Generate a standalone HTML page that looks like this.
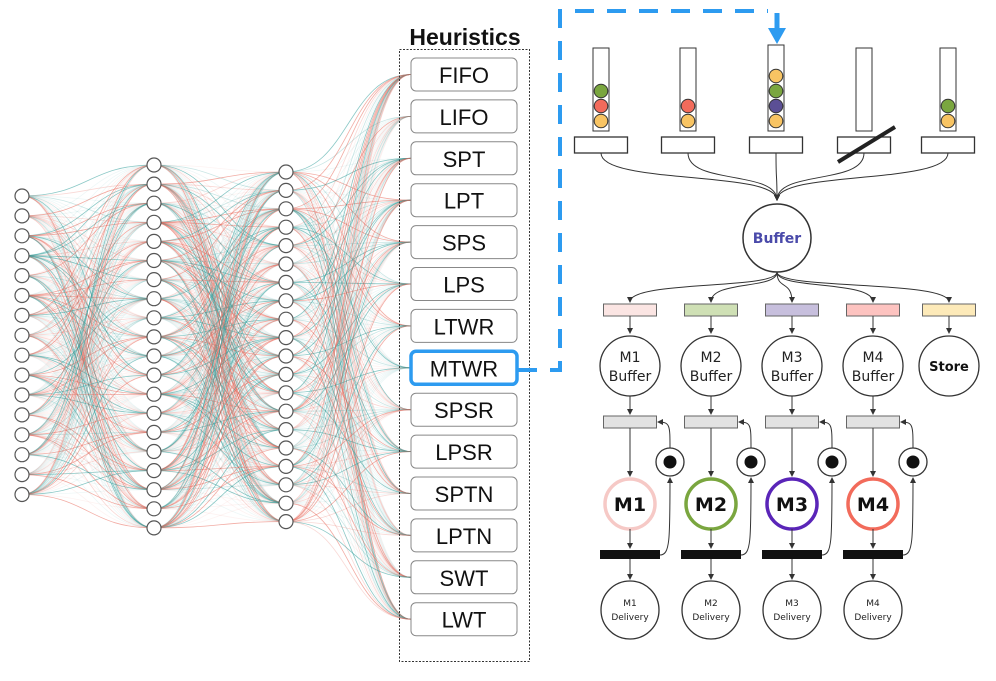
<!DOCTYPE html>
<html><head><meta charset="utf-8">
<style>
html,body{margin:0;padding:0;background:#fff;}
svg{display:block;font-family:"Liberation Sans",sans-serif;}
.t{font-family:"DejaVu Sans","Liberation Sans",sans-serif;}
</style></head>
<body>
<svg id="s" width="996" height="681" viewBox="0 0 996 681" xmlns="http://www.w3.org/2000/svg">
<defs>
<marker id="a" markerWidth="6" markerHeight="6" refX="5" refY="3" orient="auto"><path d="M0,0 L6,3 L0,6 z" fill="#333"/></marker>
</defs>
<g id="links" fill="none"></g>
<g id="nodes"></g>
<!-- Heuristics -->
<text x="465" y="45" font-size="23" font-weight="bold" text-anchor="middle" fill="#111">Heuristics</text>
<rect x="399.5" y="49.5" width="130" height="612" fill="none" stroke="#333" stroke-dasharray="2,1.5"/>
<g id="heur"></g>
<!-- dashed blue -->
<path d="M518,370 H560 V11 H768" fill="none" stroke="#2d9bf0" stroke-width="4" stroke-dasharray="19,13"/>
<path d="M777,13 V30" stroke="#2d9bf0" stroke-width="5"/>
<path d="M768,28 L786,28 L777,44 z" fill="#2d9bf0"/>
<g id="right" stroke="#333" fill="none"></g>
</svg>
<script>
var NS="http://www.w3.org/2000/svg";
function el(p,t,a,txt){var e=document.createElementNS(NS,t);for(var k in a)e.setAttribute(k,a[k]);if(txt!=null)e.textContent=txt;p.appendChild(e);return e;}
var seed=7;function rnd(){seed=(seed*16807)%2147483647;return seed/2147483647;}
var L1=[],L2=[],L3=[],H=[];
for(var i=0;i<16;i++)L1.push([22,196+i*19.9]);
for(var i=0;i<20;i++)L2.push([154,165+i*19.1]);
for(var i=0;i<20;i++)L3.push([286,172+i*18.4]);
var names=["FIFO","LIFO","SPT","LPT","SPS","LPS","LTWR","MTWR","SPSR","LPSR","SPTN","LPTN","SWT","LWT"];
for(var i=0;i<14;i++)H.push([411,74.5+i*41.9]);
var links=document.getElementById("links");
function conn(A,B){for(var i=0;i<A.length;i++)for(var j=0;j<B.length;j++){var a=A[i],b=B[j];var r=rnd();var col=rnd()<0.5?"#e8675a":"#2a9a97";var op=r<0.25?0.55:(r<0.55?0.25:0.08);var mx=(a[0]+b[0])/2;
el(links,"path",{d:"M"+a[0]+","+a[1]+" C"+mx+","+a[1]+" "+mx+","+b[1]+" "+b[0]+","+b[1],stroke:col,"stroke-opacity":op,"stroke-width":0.8});}}
conn(L1,L2);conn(L2,L3);conn(L3,H);
var nodes=document.getElementById("nodes");
[L1,L2,L3].forEach(function(L){L.forEach(function(p){el(nodes,"circle",{cx:p[0],cy:p[1],r:7,fill:"#fff",stroke:"#555","stroke-width":1.2});});});
var heur=document.getElementById("heur");
for(var i=0;i<14;i++){var y=58+i*41.9;var sel=names[i]=="MTWR";
el(heur,"rect",{x:411,y:y,width:106,height:33,rx:5,fill:"#fff",stroke:sel?"#2d9bf0":"#888","stroke-width":sel?3.5:1});
el(heur,"text",{x:464,y:y+25,"font-size":22,"text-anchor":"middle",fill:"#111"},names[i]);}
var R=document.getElementById("right");
var tx=[601,688,776,864,948];
var balls=[["#7aa63f","#f26b5b","#f8c463"],["#f26b5b","#f8c463"],["#f8c463","#7aa63f","#5b4f95","#f8c463"],[],["#7aa63f","#f8c463"]];
tx.forEach(function(x,k){el(R,"rect",{x:x-8,y:k==2?45:48,width:16,height:k==2?86:83,fill:"#fff"});
var b=balls[k];for(var m=0;m<b.length;m++){el(R,"circle",{cx:x,cy:121-(b.length-1-m)*15,r:6.8,fill:b[m]});}
el(R,"rect",{x:x-26.5,y:137,width:53,height:16,fill:"#fff","stroke-width":1.3});
el(R,"path",{d:"M"+x+",153 C"+x+",185 777,170 777,200","marker-end":"url(#a)","stroke-width":1});});
el(R,"path",{d:"M838,162 L895,127","stroke-width":4,stroke:"#222"});
el(R,"circle",{cx:777,cy:238,r:34,fill:"#fff","stroke-width":1.5});
el(R,"text",{x:777,y:243,"font-size":14,"font-weight":"bold","text-anchor":"middle",fill:"#4a4aaa",stroke:"none","class":"t"},"Buffer");
var cx=[630,711,792,873,949];var cols=["#fbe5e3","#cfe0b5","#c7bfdd","#fdc3c0","#fdeab9"];
cx.forEach(function(x,k){el(R,"path",{d:"M777,272 C777,290 "+x+",280 "+x+",302","marker-end":"url(#a)","stroke-width":1});
el(R,"rect",{x:x-26.5,y:304,width:53,height:12,fill:cols[k],stroke:"#666"});
el(R,"path",{d:"M"+x+",316 V333","marker-end":"url(#a)","stroke-width":1});
el(R,"circle",{cx:x,cy:366,r:30,fill:"#fff","stroke-width":1.3});
if(k==4){el(R,"text",{x:x,y:371,"font-size":13,"font-weight":"bold","text-anchor":"middle",fill:"#111",stroke:"none","class":"t"},"Store");return;}
el(R,"text",{x:x,y:362,"font-size":14,"text-anchor":"middle",fill:"#222",stroke:"none","class":"t"},"M"+(k+1));
el(R,"text",{x:x,y:381,"font-size":14,"text-anchor":"middle",fill:"#222",stroke:"none","class":"t"},"Buffer");
el(R,"path",{d:"M"+x+",396 V414","marker-end":"url(#a)","stroke-width":1});
el(R,"rect",{x:x-26.5,y:416,width:53,height:12,fill:"#e2e2e2",stroke:"#666"});
el(R,"path",{d:"M"+x+",428 V476","marker-end":"url(#a)","stroke-width":1});
var mc=["#f6c9c6","#7aa63f","#5a25b8","#f26b5b"][k];
el(R,"circle",{cx:x,cy:504,r:25,fill:"#fff",stroke:mc,"stroke-width":3.5});
el(R,"text",{x:x,y:511,"font-size":19,"font-weight":"bold","text-anchor":"middle",fill:"#111",stroke:"none","class":"t"},"M"+(k+1));
el(R,"path",{d:"M"+x+",529 V548","marker-end":"url(#a)","stroke-width":1});
el(R,"rect",{x:x-30,y:550,width:60,height:9,fill:"#111",stroke:"none"});
el(R,"path",{d:"M"+x+",559 V579","marker-end":"url(#a)","stroke-width":1});
el(R,"circle",{cx:x,cy:610,r:29,fill:"#fff","stroke-width":1.3});
el(R,"text",{x:x,y:606,"font-size":9,"text-anchor":"middle",fill:"#222",stroke:"none","class":"t"},"M"+(k+1));
el(R,"text",{x:x,y:620,"font-size":9,"text-anchor":"middle",fill:"#222",stroke:"none","class":"t"},"Delivery");
var tx2=x+40;
el(R,"path",{d:"M"+(x+30)+",555 C"+tx2+",555 "+tx2+",540 "+tx2+",478","marker-end":"url(#a)","stroke-width":1});
el(R,"circle",{cx:tx2,cy:462,r:14,fill:"#fff","stroke-width":1.3});
el(R,"circle",{cx:tx2,cy:462,r:6.5,fill:"#111",stroke:"none"});
el(R,"path",{d:"M"+tx2+",448 C"+tx2+",425 "+tx2+",422 "+(x+28)+",422","marker-end":"url(#a)","stroke-width":1});
});
</script>
</body></html>
